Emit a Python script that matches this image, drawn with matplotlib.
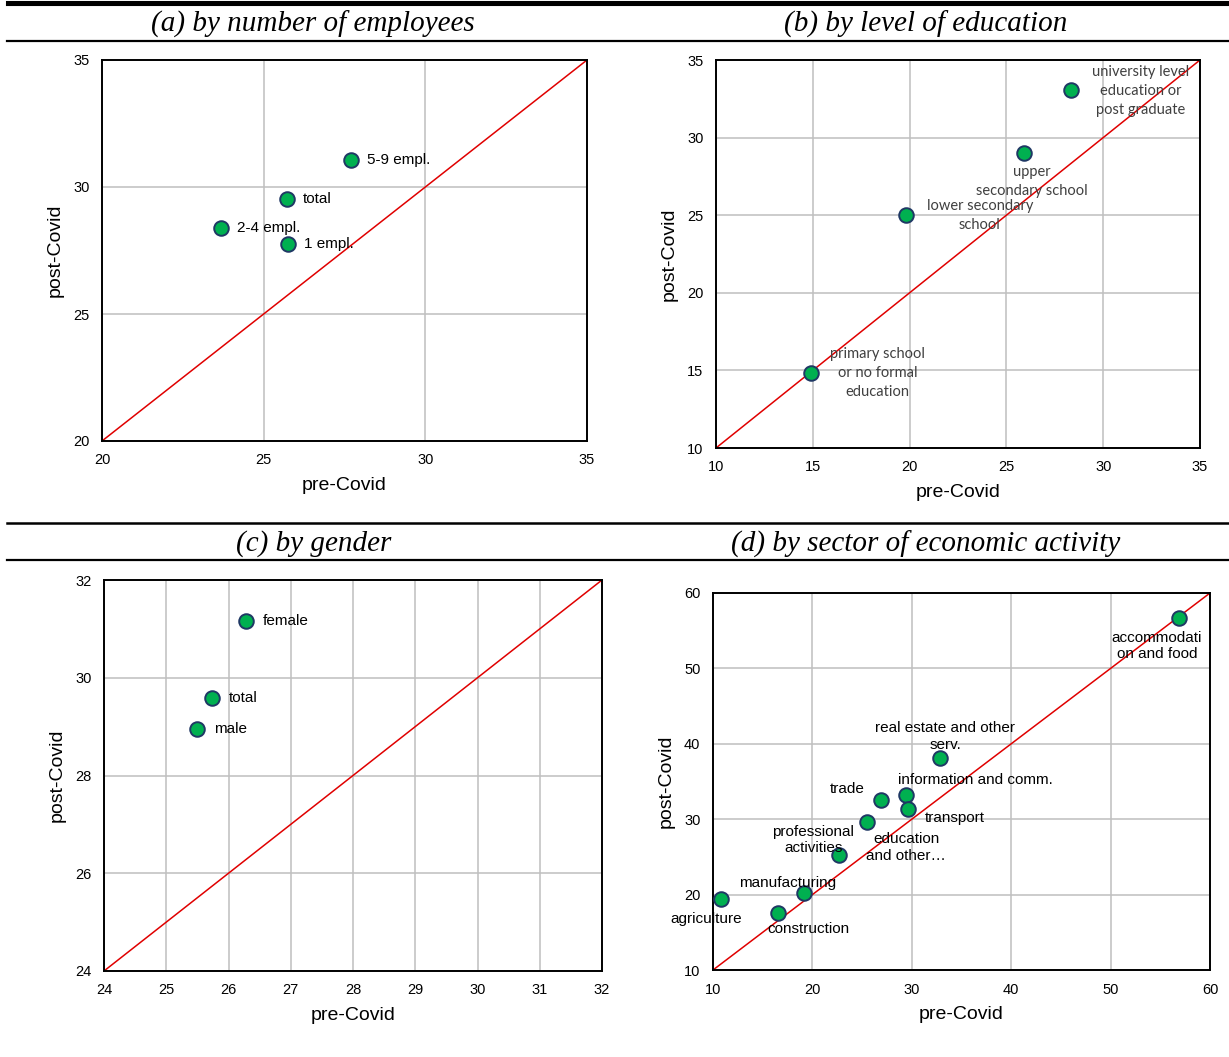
import matplotlib
matplotlib.use("Agg")
import matplotlib.pyplot as plt
from matplotlib.lines import Line2D
import numpy as np

# ---------------- data ----------------
a_labels = ["5-9 empl.", "total", "2-4 empl.", "1 empl."]
a_pre = [27.71, 25.73, 23.68, 25.74]
a_post = [31.05, 29.54, 28.39, 27.74]

b_labels = ["university level\neducation or\npost graduate",
            "upper\nsecondary school",
            "lower secondary\nschool",
            "primary school\nor no formal\neducation"]
b_pre = [28.34, 25.93, 19.80, 14.89]
b_post = [33.04, 29.03, 25.00, 14.85]

c_labels = ["female", "total", "male"]
c_pre = [26.28, 25.73, 25.50]
c_post = [31.17, 29.58, 28.95]

d_labels = ["accommodati\non and food", "real estate and other\nserv.",
            "information and comm.", "transport", "trade",
            "education\nand other\u2026", "professional\nactivities",
            "manufacturing", "agriculture", "construction"]
d_pre = [56.88, 32.84, 29.42, 29.65, 26.87, 25.53, 22.71, 19.15, 10.77, 16.57]
d_post = [56.68, 38.08, 33.21, 31.31, 32.55, 29.59, 25.25, 20.25, 19.38, 17.60]

titles = ["(a) by number of employees", "(b) by level of education",
          "(c) by gender", "(d) by sector of economic activity"]

a_ticks = [20, 25, 30, 35]
b_ticks = [10, 15, 20, 25, 30, 35]
c_xticks = [24, 25, 26, 27, 28, 29, 30, 31, 32]
c_yticks = [24, 26, 28, 30, 32]
d_ticks = [10, 20, 30, 40, 50, 60]

# ---------------- style ----------------
W, H = 1229, 1057
fig = plt.figure(figsize=(W / 100, H / 100), dpi=100)

SANS = "Liberation Sans"
SERIF = "Liberation Serif"
LABFONT = "Lato"
GREEN = "#00B050"
NAVY = "#1F3864"
RED = "#E00000"
GRID = "#BFBFBF"


def fx(px):
    return px / W


def fy(py):
    return 1 - py / H


def hline(py, x0=7, x1=W, lw=1.6):
    fig.add_artist(Line2D([fx(x0), fx(x1)], [fy(py), fy(py)],
                          transform=fig.transFigure, color="black", lw=lw))


hline(1.5, lw=2.2)
hline(5.0, lw=1.5)
hline(41, lw=1.6)
hline(523, lw=1.8)
hline(560, lw=1.6)

TFS = 21
fig.text(fx(313), fy(24), titles[0], ha="center", va="center",
         family=SERIF, style="italic", fontsize=TFS)
fig.text(fx(926), fy(24), titles[1], ha="center", va="center",
         family=SERIF, style="italic", fontsize=TFS)
fig.text(fx(314), fy(544), titles[2], ha="center", va="center",
         family=SERIF, style="italic", fontsize=TFS)
fig.text(fx(926), fy(544), titles[3], ha="center", va="center",
         family=SERIF, style="italic", fontsize=TFS)


def make_axes(l, r, t, b):
    return fig.add_axes([fx(l), fy(b), fx(r - l), (b - t) / H])


def style_axes(ax, xticks, yticks, xlim, ylim):
    ax.set_xlim(*xlim)
    ax.set_ylim(*ylim)
    ax.set_xticks(xticks)
    ax.set_yticks(yticks)
    ax.grid(True, color=GRID, lw=1.1)
    ax.set_axisbelow(True)
    for s in ax.spines.values():
        s.set_linewidth(1.4)
        s.set_color("black")
    ax.tick_params(length=0, pad=9, labelsize=10.5)
    for lab in ax.get_xticklabels() + ax.get_yticklabels():
        lab.set_family(SANS)
    ax.set_xlabel("pre-Covid", family=SANS, fontsize=14, labelpad=7)
    ax.set_ylabel("post-Covid", family=SANS, fontsize=14, labelpad=7)
    ax.plot([xlim[0], xlim[1]], [ylim[0], ylim[1]], color=RED, lw=1.1, zorder=2)


def points(ax, xs, ys):
    ax.plot(xs, ys, ls="none", marker="o", ms=10.5, mfc=GREEN, mec=NAVY,
            mew=1.4, zorder=4)


# (a)
axa = make_axes(102, 587, 60, 441)
style_axes(axa, a_ticks, a_ticks, (20, 35), (20, 35))
points(axa, a_pre, a_post)
for lab, x, y in zip(a_labels, a_pre, a_post):
    axa.annotate(lab, (x, y), xytext=(16, 0), textcoords="offset pixels",
                 ha="left", va="center", family=SANS, fontsize=11, zorder=5)

# (b)
axb = make_axes(716, 1200, 60, 448)
style_axes(axb, b_ticks, b_ticks, (10, 35), (10, 35))
points(axb, b_pre, b_post)
b_off = [(70, -1), (7, -29), (74, 0), (67, 0)]
for lab, x, y, (dx, dy) in zip(b_labels, b_pre, b_post, b_off):
    axb.annotate(lab, (x, y), xytext=(dx, dy), textcoords="offset pixels",
                 ha="center", va="center", family=LABFONT, fontsize=10.5,
                 color="#404040", linespacing=1.45, zorder=5)

# (c)
axc = make_axes(104, 602, 580, 971)
style_axes(axc, c_xticks, c_yticks, (24, 32), (24, 32))
points(axc, c_pre, c_post)
for lab, x, y in zip(c_labels, c_pre, c_post):
    axc.annotate(lab, (x, y), xytext=(17, 0), textcoords="offset pixels",
                 ha="left", va="center", family=SANS, fontsize=11, zorder=5)

# (d)
axd = make_axes(713, 1210, 593, 970)
style_axes(axd, d_ticks, d_ticks, (10, 60), (10, 60))
points(axd, d_pre, d_post)
d_off = [(-22, -28), (5, 22), (69, 15), (46, -9), (-33, 11), (39, -25),
         (-26, 15), (-16, 10), (-14, -20), (30, -16)]
for lab, x, y, (dx, dy) in zip(d_labels, d_pre, d_post, d_off):
    axd.annotate(lab, (x, y), xytext=(dx, dy), textcoords="offset pixels",
                 ha="center", va="center", family=SANS, fontsize=11,
                 linespacing=1.25, zorder=5)

fig.savefig("out.png", dpi=100)
